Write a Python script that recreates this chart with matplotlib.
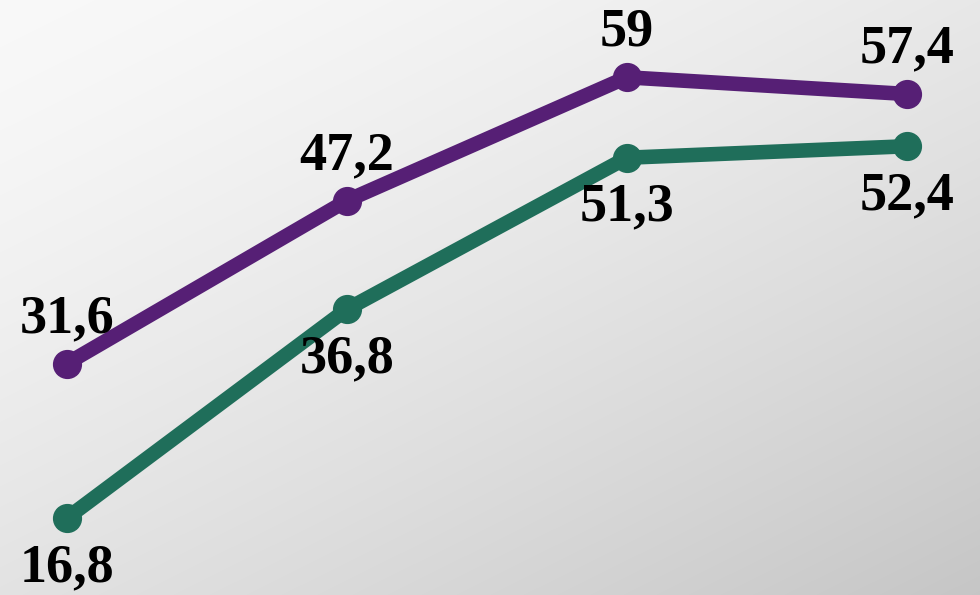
import numpy as np
import matplotlib
matplotlib.use("Agg")
import matplotlib.pyplot as plt

# Données
categories = ["1", "2", "3", "4"]
purple_values = [31.6, 47.2, 59, 57.4]
green_values = [16.8, 36.8, 51.3, 52.4]
purple_labels = ["31,6", "47,2", "59", "57,4"]
green_labels = ["16,8", "36,8", "51,3", "52,4"]

purple = "#561f75"
green = "#1f6e5a"

fig = plt.figure(figsize=(9.8, 5.95), dpi=100)

# Fond dégradé (diagonal, clair en haut à gauche)
bg = fig.add_axes([0, 0, 1, 1])
bg.set_axis_off()
yy, xx = np.mgrid[0:595, 0:980]
t = 0.45 * xx / 980.0 + 0.55 * yy / 595.0
shade = 0.975 - (t ** 1.4) * (0.975 - 0.775)
bg.imshow(np.dstack([shade, shade, shade]), aspect="auto", extent=[0, 1, 0, 1])

ax = fig.add_axes([0, 0, 1, 1])
ax.patch.set_alpha(0)
ax.set_axis_off()

x = np.arange(len(categories))
ax.plot(x, purple_values, color=purple, lw=10.5, marker="o", ms=20,
        solid_capstyle="round", solid_joinstyle="round")
ax.plot(x, green_values, color=green, lw=10.5, marker="o", ms=20,
        solid_capstyle="round", solid_joinstyle="round")

font = dict(family="Liberation Serif", weight="bold", size=39, color="black")
for xi, v, lab in zip(x, purple_values, purple_labels):
    ax.annotate(lab, (xi, v), xytext=(0, 14), textcoords="offset points",
                ha="center", va="bottom", **font)
for xi, v, lab in zip(x, green_values, green_labels):
    ax.annotate(lab, (xi, v), xytext=(0, -18), textcoords="offset points",
                ha="center", va="top", **font)

ax.set_xlim(-0.239, 3.261)
ax.set_ylim(9.44, 66.4)

fig.savefig("out.png", dpi=100)
